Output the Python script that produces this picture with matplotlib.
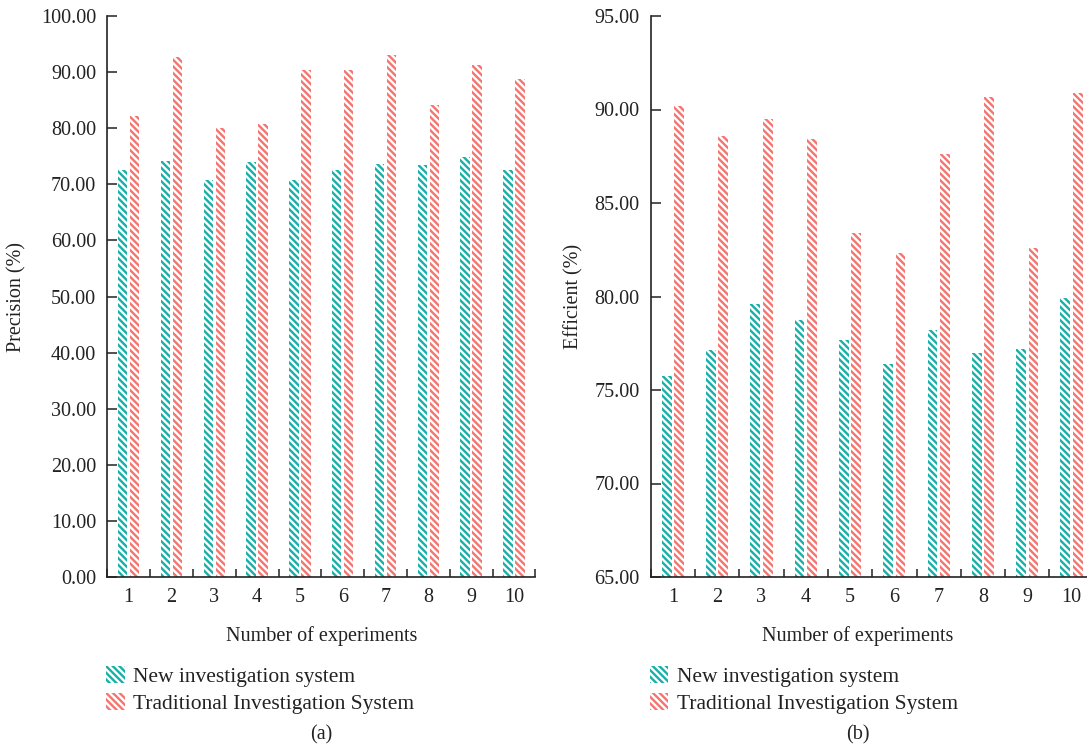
import matplotlib
matplotlib.use("Agg")
import matplotlib.pyplot as plt
import numpy as np
from matplotlib.ticker import FormatStrFormatter

experiments = ["1", "2", "3", "4", "5", "6", "7", "8", "9", "10"]
precision_new = [72.6, 74.1, 70.7, 73.9, 70.8, 72.6, 73.6, 73.4, 74.8, 72.6]
precision_trad = [82.1, 92.7, 80.1, 80.7, 90.3, 90.3, 93.0, 84.1, 91.3, 88.7]
efficient_new = [75.75, 77.14, 79.6, 78.75, 77.7, 76.4, 78.2, 77.0, 77.2, 79.9]
efficient_trad = [90.2, 88.6, 89.5, 88.4, 83.4, 82.3, 87.6, 90.65, 82.6, 90.9]
series_names = ["New investigation system", "Traditional Investigation System"]

TEAL = "#17b0a8"
RED = "#f37570"
INK = "#222222"

plt.rcParams["font.family"] = ["Liberation Serif", "DejaVu Serif"]
plt.rcParams["hatch.linewidth"] = 1.7

FS = 14.5
LEG_FS = 15.5
HATCH = "\\" * 5

fig = plt.figure(figsize=(10.87, 7.54), dpi=100)
W, H = 1087, 754

def px_axes(x0, x1, ytop, ybot):
    return [x0 / W, 1 - ybot / H, (x1 - x0) / W, (ybot - ytop) / H]

axL = fig.add_axes(px_axes(107.3, 535.3, 16, 577))
axR = fig.add_axes(px_axes(650.7, 1093.7, 16, 577))

def draw(ax, new, trad, ylim, yticks, ylabel, ylabel_x, xlabel_x):
    x = np.arange(1, len(experiments) + 1)
    w = 0.22
    off = 0.14
    ax.bar(x - off, new, w, color="white", edgecolor=TEAL, linewidth=0,
           hatch=HATCH, label=series_names[0])
    ax.bar(x + off, trad, w, color="white", edgecolor=RED, linewidth=0,
           hatch=HATCH, label=series_names[1])
    ax.set_xlim(0.5, 10.5)
    ax.set_ylim(*ylim)
    ax.set_yticks(yticks)
    ax.yaxis.set_major_formatter(FormatStrFormatter("%.2f"))
    ax.set_xticks(np.arange(0.5, 11, 1.0))
    ax.set_xticklabels([])
    ax.set_xticks(x, minor=True)
    ax.set_xticklabels(experiments, minor=True)
    ax.tick_params(axis="x", which="major", direction="in", length=6, width=1.1, color=INK)
    ax.tick_params(axis="x", which="minor", length=0, pad=8, labelsize=FS, labelcolor=INK)
    ax.tick_params(axis="y", direction="in", length=7, width=1.1, pad=8, labelsize=FS,
                   color=INK, labelcolor=INK)
    for s in ["top", "right"]:
        ax.spines[s].set_visible(False)
    for s in ["left", "bottom"]:
        ax.spines[s].set_linewidth(1.2)
        ax.spines[s].set_color(INK)
    ax.set_ylabel(ylabel, fontsize=FS, color=INK)
    ax.yaxis.set_label_coords(ylabel_x, 0.5)
    ax.set_xlabel("Number of experiments", fontsize=FS, color=INK)
    ax.xaxis.set_label_coords(xlabel_x, -0.087)
    ax.legend(loc="upper left", bbox_to_anchor=(-0.002, -0.159), frameon=False,
              handlelength=0.85, handleheight=0.8, handletextpad=0.4,
              labelspacing=0.3, borderaxespad=0, borderpad=0, fontsize=LEG_FS,
              labelcolor=INK)

draw(axL, precision_new, precision_trad, (0, 100), np.arange(0, 101, 10),
     "Precision (%)", -0.188, 0.5)
draw(axR, efficient_new, efficient_trad, (65, 95), np.arange(65, 96, 5),
     "Efficient (%)", -0.152, 0.468)

fig.text(321 / W, 1 - 735 / H, "(a)", ha="center", va="center", fontsize=FS, color=INK)
fig.text(858 / W, 1 - 735 / H, "(b)", ha="center", va="center", fontsize=FS, color=INK)

fig.savefig("out.png", dpi=100)
